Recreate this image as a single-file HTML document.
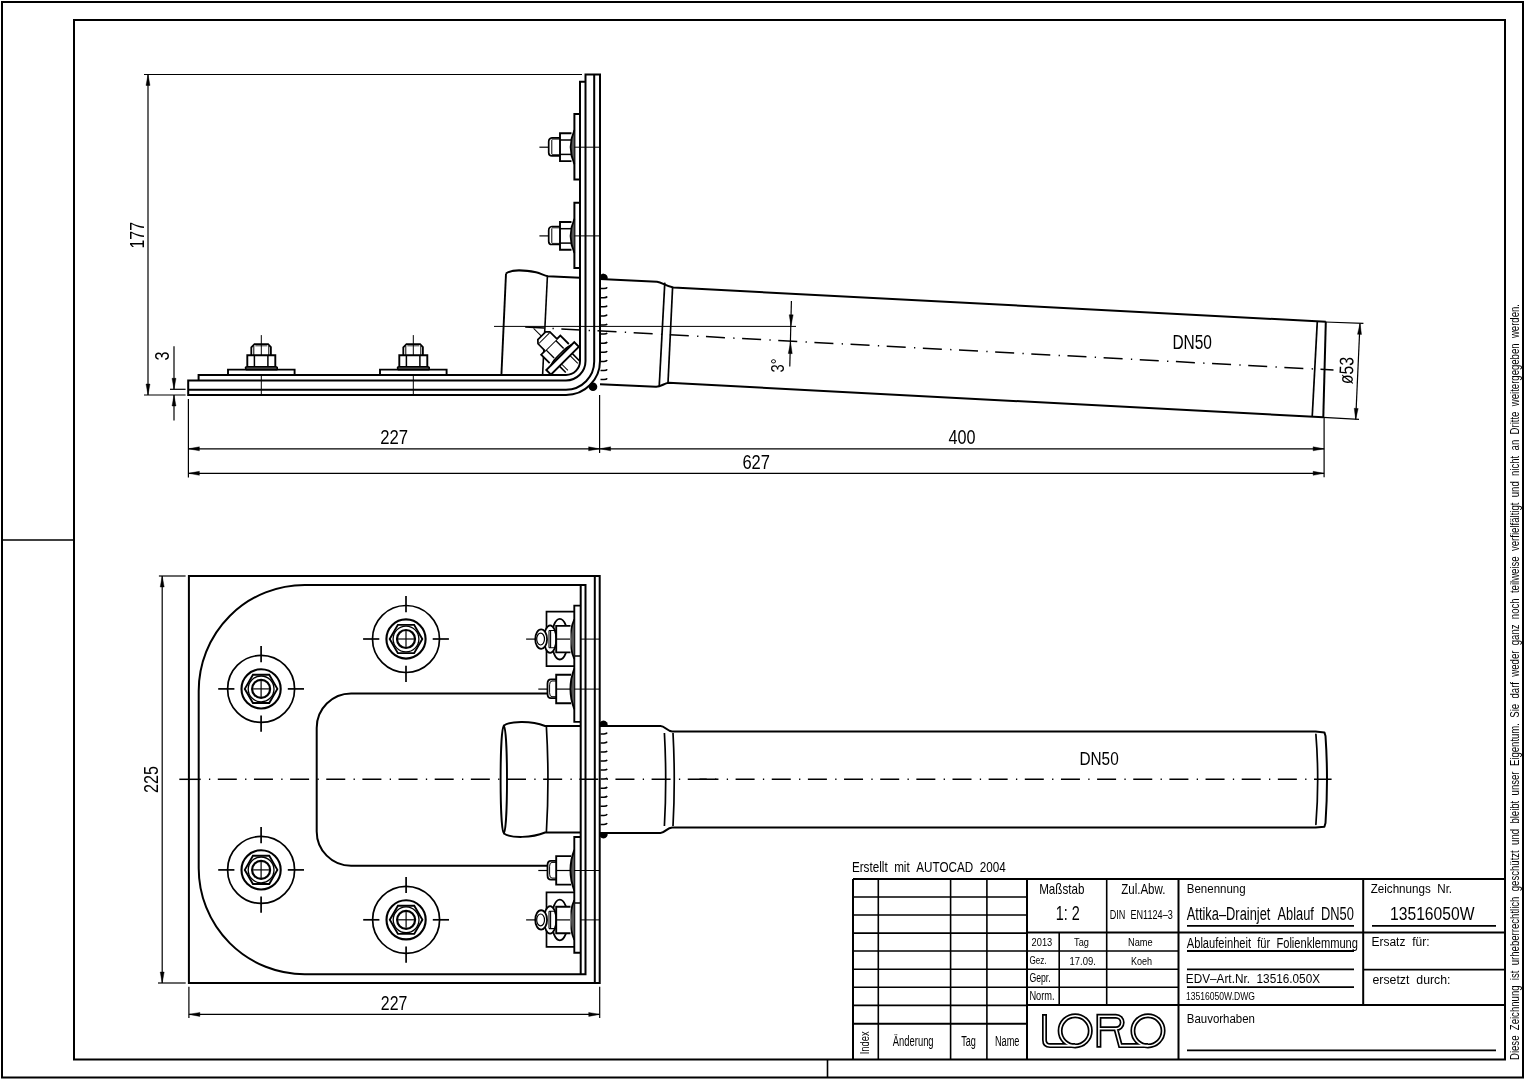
<!DOCTYPE html>
<html><head><meta charset="utf-8"><style>
html,body{margin:0;padding:0;background:#fff;width:1525px;height:1080px;overflow:hidden}
svg{display:block;will-change:transform}
text{font-family:"Liberation Sans",sans-serif;fill:#000;stroke:none}
</style></head><body>
<svg width="1525" height="1080" viewBox="0 0 1525 1080">
<g fill="none" stroke="#000" stroke-linecap="butt">
<path d="M2,2 H1523 V1077.5 H2 Z" stroke-width="2.0" />
<path d="M74,20 H1505 V1059.5 H74 Z" stroke-width="2.0" />
<line x1="2.00" y1="540.00" x2="74.00" y2="540.00" stroke-width="1.6" />
<line x1="827.50" y1="1059.50" x2="827.50" y2="1077.50" stroke-width="1.6" />
<line x1="144.00" y1="74.50" x2="582.00" y2="74.50" stroke-width="1.2" />
<line x1="148.00" y1="74.50" x2="148.00" y2="395.00" stroke-width="1.2" />
<polygon points="148.00,74.50 150.00,85.50 146.00,85.50" fill="#000" stroke="#000" stroke-width="0.4"/>
<polygon points="148.00,395.00 146.00,384.00 150.00,384.00" fill="#000" stroke="#000" stroke-width="0.4"/>
<line x1="144.00" y1="395.00" x2="185.60" y2="395.00" stroke-width="1.2" />
<g transform="translate(137.00,235.30) rotate(-90)"><text x="-13.30" y="6.80" font-size="19.77" textLength="26.60" lengthAdjust="spacingAndGlyphs">177</text></g>
<line x1="174.00" y1="346.30" x2="174.00" y2="389.30" stroke-width="1.2" />
<polygon points="174.00,389.30 172.00,378.30 176.00,378.30" fill="#000" stroke="#000" stroke-width="0.4"/>
<line x1="170.00" y1="389.30" x2="185.60" y2="389.30" stroke-width="1.2" />
<line x1="174.00" y1="420.40" x2="174.00" y2="395.00" stroke-width="1.2" />
<polygon points="174.00,395.00 176.00,406.00 172.00,406.00" fill="#000" stroke="#000" stroke-width="0.4"/>
<g transform="translate(161.80,356.00) rotate(-90)"><text x="-4.50" y="6.80" font-size="19.77" textLength="9.00" lengthAdjust="spacingAndGlyphs">3</text></g>
<path d="M188.2,380.5 V395 H566 A34,34 0 0 0 600,361 V74.4 H585.5 V361 A19.5,19.5 0 0 1 566,380.5 H188.2 Z" stroke-width="2.0" />
<path d="M188.2,389.7 H566 A28.2,28.2 0 0 0 594.2,361 V74.4" stroke-width="2.0" />
<path d="M198.6,380.5 V375 H566 A14,14 0 0 0 580,361 V81.7 H585.5" stroke-width="2.0" />
<path d="M580,113.99999999999999 H574.4 V179.39999999999998 H580" stroke-width="2.0" />
<path d="M574.4,130.2 Q566.8,147.2 574.4,164.2" fill="#555" stroke-width="1.8"/>
<path d="M571.5,133.29999999999998 H560 V161.1 H571.5" stroke-width="1.9" />
<line x1="560.00" y1="140.00" x2="571.00" y2="140.00" stroke-width="1.5" />
<line x1="560.00" y1="154.40" x2="571.00" y2="154.40" stroke-width="1.5" />
<path d="M560,137.79999999999998 H552 Q548.7,138.2 548.7,141.7 V152.7 Q548.7,155.79999999999998 552,155.79999999999998 H560" stroke-width="1.7" />
<line x1="551.80" y1="139.70" x2="551.80" y2="154.20" stroke-width="1.0" />
<line x1="552.00" y1="139.10" x2="560.00" y2="139.10" stroke-width="0.9" />
<line x1="552.00" y1="154.70" x2="560.00" y2="154.70" stroke-width="0.9" />
<line x1="539.40" y1="147.20" x2="548.70" y2="147.20" stroke-width="1.2" />
<line x1="574.40" y1="147.20" x2="600.00" y2="147.20" stroke-width="1.0" />
<path d="M580,202.7 H574.4 V268.1 H580" stroke-width="2.0" />
<path d="M574.4,218.9 Q566.8,235.9 574.4,252.9" fill="#555" stroke-width="1.8"/>
<path d="M571.5,222.0 H560 V249.8 H571.5" stroke-width="1.9" />
<line x1="560.00" y1="228.70" x2="571.00" y2="228.70" stroke-width="1.5" />
<line x1="560.00" y1="243.10" x2="571.00" y2="243.10" stroke-width="1.5" />
<path d="M560,226.5 H552 Q548.7,226.9 548.7,230.4 V241.4 Q548.7,244.5 552,244.5 H560" stroke-width="1.7" />
<line x1="551.80" y1="228.40" x2="551.80" y2="242.90" stroke-width="1.0" />
<line x1="552.00" y1="227.80" x2="560.00" y2="227.80" stroke-width="0.9" />
<line x1="552.00" y1="243.40" x2="560.00" y2="243.40" stroke-width="0.9" />
<line x1="539.40" y1="235.90" x2="548.70" y2="235.90" stroke-width="1.2" />
<line x1="574.40" y1="235.90" x2="600.00" y2="235.90" stroke-width="1.0" />
<path d="M228.0,375 V369.6 H294.6 V375" stroke-width="1.9" />
<path d="M246.3,369.6 Q244.3,366.7 247.3,366.7 H275.3 Q278.3,366.7 276.8,369.6 Z" fill="#555" stroke-width="1.6"/>
<path d="M247.3,366.7 V355.2 H275.3 V366.7" stroke-width="1.9" />
<line x1="254.40" y1="355.20" x2="254.40" y2="366.70" stroke-width="1.5" />
<line x1="267.90" y1="355.20" x2="267.90" y2="366.70" stroke-width="1.5" />
<path d="M251.3,355.2 V347.4 L254.5,344.1 H268.1 L270.90000000000003,347.2 V355.2" stroke-width="1.8" />
<line x1="253.80" y1="346.00" x2="253.80" y2="355.00" stroke-width="1.0" />
<line x1="268.80" y1="346.00" x2="268.80" y2="355.00" stroke-width="1.0" />
<line x1="255.30" y1="345.80" x2="267.30" y2="345.80" stroke-width="0.8" />
<line x1="261.30" y1="335.10" x2="261.30" y2="356.00" stroke-width="1.0" />
<line x1="261.30" y1="374.50" x2="261.30" y2="395.00" stroke-width="1.0" />
<path d="M380.0,375 V369.6 H446.6 V375" stroke-width="1.9" />
<path d="M398.3,369.6 Q396.3,366.7 399.3,366.7 H427.3 Q430.3,366.7 428.8,369.6 Z" fill="#555" stroke-width="1.6"/>
<path d="M399.3,366.7 V355.2 H427.3 V366.7" stroke-width="1.9" />
<line x1="406.40" y1="355.20" x2="406.40" y2="366.70" stroke-width="1.5" />
<line x1="419.90" y1="355.20" x2="419.90" y2="366.70" stroke-width="1.5" />
<path d="M403.3,355.2 V347.4 L406.5,344.1 H420.1 L422.90000000000003,347.2 V355.2" stroke-width="1.8" />
<line x1="405.80" y1="346.00" x2="405.80" y2="355.00" stroke-width="1.0" />
<line x1="420.80" y1="346.00" x2="420.80" y2="355.00" stroke-width="1.0" />
<line x1="407.30" y1="345.80" x2="419.30" y2="345.80" stroke-width="0.8" />
<line x1="413.30" y1="335.10" x2="413.30" y2="356.00" stroke-width="1.0" />
<line x1="413.30" y1="374.50" x2="413.30" y2="395.00" stroke-width="1.0" />
<path d="M506,273.5 C511,269.5 524,269.8 536,272.2 C541,273.3 544,275.7 548,276.2 L580,277.8" stroke-width="1.9" />
<path d="M506,273.5 L501.4,375" stroke-width="1.9" />
<path d="M547.4,276.2 L542.6,375" stroke-width="1.6" />
<line x1="494.00" y1="326.40" x2="796.00" y2="326.40" stroke-width="1.0" />
<path d="M525.20,327.00 L544.20,328.01 M552.50,328.45 L553.80,328.52 M561.35,328.92 L580.35,329.93 M588.65,330.38 L589.95,330.44 M597.50,330.85 L616.50,331.86 M624.80,332.30 L626.10,332.37 M633.65,332.77 L652.65,333.78 M660.95,334.22 L662.25,334.29 M669.80,334.69 L688.80,335.70 M697.10,336.15 L698.40,336.21 M705.95,336.62 L724.95,337.63 M733.25,338.07 L734.55,338.14 M742.10,338.54 L761.10,339.55 M769.40,339.99 L770.70,340.06 M778.25,340.46 L797.25,341.47 M805.55,341.91 L806.85,341.98 M814.40,342.39 L833.40,343.40 M841.70,343.84 L843.00,343.91 M850.55,344.31 L869.55,345.32 M877.85,345.76 L879.15,345.83 M886.70,346.23 L905.70,347.24 M914.00,347.68 L915.30,347.75 M922.85,348.15 L941.85,349.17 M950.15,349.61 L951.45,349.68 M959.00,350.08 L978.00,351.09 M986.30,351.53 L987.60,351.60 M995.15,352.00 L1014.15,353.01 M1022.45,353.45 L1023.75,353.52 M1031.30,353.92 L1050.30,354.94 M1058.60,355.38 L1059.90,355.45 M1067.45,355.85 L1086.45,356.86 M1094.75,357.30 L1096.05,357.37 M1103.60,357.77 L1122.60,358.78 M1130.90,359.22 L1132.20,359.29 M1139.75,359.69 L1158.75,360.70 M1167.05,361.15 L1168.35,361.22 M1175.90,361.62 L1194.90,362.63 M1203.20,363.07 L1204.50,363.14 M1212.05,363.54 L1231.05,364.55 M1239.35,364.99 L1240.65,365.06 M1248.20,365.46 L1267.20,366.47 M1275.50,366.92 L1276.80,366.99 M1284.35,367.39 L1303.35,368.40 M1311.65,368.84 L1312.95,368.91 M1320.50,369.31 L1333.50,370.00" stroke-width="1.5" />
<g transform="translate(558,352) rotate(45)">
<path d="M11,-9 H22 M11,9 H20" stroke-width="1.6" />
<line x1="11.00" y1="-6.00" x2="22.00" y2="-6.00" stroke-width="1.0" />
<line x1="11.00" y1="6.00" x2="20.00" y2="6.00" stroke-width="1.0" />
<path d="M4.5,-18.5 H11 V21 H4.5 Z" stroke-width="1.9" fill="#fff"/>
<path d="M4.5,-15 Q0,0 4.5,15 Z" fill="#555" stroke-width="1.6"/>
<path d="M2,-13.3 H-10 V13.8 H2" stroke-width="1.8" fill="#fff"/>
<line x1="-10.00" y1="-6.50" x2="1.50" y2="-6.50" stroke-width="1.4" />
<line x1="-10.00" y1="7.00" x2="1.50" y2="7.00" stroke-width="1.4" />
<path d="M-10,-8.5 H-20 L-23,-5.5 V5.5 L-20,8.3 H-10" stroke-width="1.7" fill="#fff"/>
<line x1="-19.50" y1="-7.50" x2="-19.50" y2="7.50" stroke-width="1.0" />
<line x1="-34.00" y1="0.50" x2="-23.00" y2="0.50" stroke-width="1.0" />
</g>
<path d="M599.5,279 A4.2,4.2 0 1 1 607.5,279.2 Z" fill="#000" stroke="none"/>
<circle cx="593" cy="386.8" r="4.3" fill="#000" stroke="none"/>
<path d="M600,278.9 L657,281.8 C662,282.2 666,286.5 673.4,287.5 L1325.8,321.8" stroke-width="2.0" />
<path d="M600,384.3 L656,386.7 C661,386.8 664,383.3 668.7,382.8 L1323.3,417.3" stroke-width="2.0" />
<path d="M664.8,282.6 L659.2,386.5" stroke-width="1.7" />
<path d="M672.6,287 L668,383" stroke-width="1.7" />
<path d="M1325.8,321.8 L1323.3,417.3" stroke-width="2.0" />
<path d="M1317.3,321.4 L1312.2,417" stroke-width="1.7" />
<path d="M600.5,288.6 H604 Q606.5,288.6 607.2,287.4" stroke-width="1.5" />
<path d="M600.5,297.7 H604 Q606.5,297.7 607.2,296.5" stroke-width="1.5" />
<path d="M600.5,306.8 H604 Q606.5,306.8 607.2,305.6" stroke-width="1.5" />
<path d="M600.5,315.9 H604 Q606.5,315.9 607.2,314.7" stroke-width="1.5" />
<path d="M600.5,325.0 H604 Q606.5,325.0 607.2,323.8" stroke-width="1.5" />
<path d="M600.5,334.1 H604 Q606.5,334.1 607.2,332.9" stroke-width="1.5" />
<path d="M600.5,343.2 H604 Q606.5,343.2 607.2,342.0" stroke-width="1.5" />
<path d="M600.5,352.3 H604 Q606.5,352.3 607.2,351.1" stroke-width="1.5" />
<path d="M600.5,361.4 H604 Q606.5,361.4 607.2,360.2" stroke-width="1.5" />
<path d="M600.5,370.5 H604 Q606.5,370.5 607.2,369.3" stroke-width="1.5" />
<path d="M600.5,379.6 H604 Q606.5,379.6 607.2,378.4" stroke-width="1.5" />
<line x1="791.40" y1="301.00" x2="789.80" y2="366.50" stroke-width="1.2" />
<polygon points="791.00,325.80 789.18,314.77 793.18,314.83" fill="#000" stroke="#000" stroke-width="0.4"/>
<polygon points="790.60,342.60 792.23,353.66 788.23,353.53" fill="#000" stroke="#000" stroke-width="0.4"/>
<g transform="translate(777.30,365.40) rotate(-90)"><text x="-7.00" y="6.50" font-size="18.90" textLength="14.00" lengthAdjust="spacingAndGlyphs">3°</text></g>
<text x="1172.40" y="349.40" font-size="20.93" textLength="39.60" lengthAdjust="spacingAndGlyphs">DN50</text>
<line x1="1325.00" y1="322.00" x2="1363.40" y2="323.40" stroke-width="1.2" />
<line x1="1323.00" y1="417.30" x2="1359.00" y2="419.40" stroke-width="1.2" />
<line x1="1360.00" y1="323.40" x2="1355.70" y2="419.40" stroke-width="1.2" />
<polygon points="1360.00,323.40 1361.51,334.48 1357.51,334.30" fill="#000" stroke="#000" stroke-width="0.4"/>
<polygon points="1355.70,419.40 1354.19,408.32 1358.19,408.50" fill="#000" stroke="#000" stroke-width="0.4"/>
<g transform="translate(1346.30,370.50) rotate(-87.5)"><text x="-13.50" y="6.80" font-size="19.77" textLength="27.00" lengthAdjust="spacingAndGlyphs">ø53</text></g>
<line x1="188.40" y1="398.90" x2="188.40" y2="477.40" stroke-width="1.2" />
<line x1="599.60" y1="395.00" x2="599.60" y2="453.00" stroke-width="1.2" />
<line x1="1324.10" y1="417.50" x2="1324.10" y2="477.30" stroke-width="1.2" />
<line x1="188.40" y1="448.80" x2="599.60" y2="448.80" stroke-width="1.2" />
<polygon points="188.40,448.80 199.40,446.80 199.40,450.80" fill="#000" stroke="#000" stroke-width="0.4"/>
<polygon points="599.60,448.80 588.60,450.80 588.60,446.80" fill="#000" stroke="#000" stroke-width="0.4"/>
<line x1="599.60" y1="448.80" x2="1324.10" y2="448.80" stroke-width="1.2" />
<polygon points="599.60,448.80 610.60,446.80 610.60,450.80" fill="#000" stroke="#000" stroke-width="0.4"/>
<polygon points="1324.10,448.80 1313.10,450.80 1313.10,446.80" fill="#000" stroke="#000" stroke-width="0.4"/>
<line x1="188.40" y1="473.30" x2="1324.10" y2="473.30" stroke-width="1.2" />
<polygon points="188.40,473.30 199.40,471.30 199.40,475.30" fill="#000" stroke="#000" stroke-width="0.4"/>
<polygon points="1324.10,473.30 1313.10,475.30 1313.10,471.30" fill="#000" stroke="#000" stroke-width="0.4"/>
<text x="380.20" y="444.40" font-size="19.48" textLength="27.90" lengthAdjust="spacingAndGlyphs">227</text>
<text x="948.60" y="444.40" font-size="19.48" textLength="27.00" lengthAdjust="spacingAndGlyphs">400</text>
<text x="742.40" y="468.70" font-size="20.06" textLength="27.60" lengthAdjust="spacingAndGlyphs">627</text>
<path d="M188.9,576 H599.7 V983 H188.9 Z" stroke-width="2.0" />
<path d="M585.5,584.9 H304.7 A106,106 0 0 0 198.7,690.9 V868.2 A106,106 0 0 0 304.7,974.2 H585.5 Z" stroke-width="2.0" />
<path d="M580.7,584.9 V974.2" stroke-width="2.0" />
<path d="M594.8,576 V983" stroke-width="2.0" />
<path d="M547.5,693.5 H351.1 A34.4,34.4 0 0 0 316.7,727.9 V831.2 A34.4,34.4 0 0 0 351.1,865.8 H547.5" stroke-width="2.0" />
<path d="M208.95,779.30 L210.25,779.30 M217.80,779.30 L236.80,779.30 M245.10,779.30 L246.40,779.30 M253.95,779.30 L272.95,779.30 M281.25,779.30 L282.55,779.30 M290.10,779.30 L309.10,779.30 M317.40,779.30 L318.70,779.30 M326.25,779.30 L345.25,779.30 M353.55,779.30 L354.85,779.30 M362.40,779.30 L381.40,779.30 M389.70,779.30 L391.00,779.30 M398.55,779.30 L417.55,779.30 M425.85,779.30 L427.15,779.30 M434.70,779.30 L453.70,779.30 M462.00,779.30 L463.30,779.30 M470.85,779.30 L489.85,779.30 M498.15,779.30 L499.45,779.30 M507.00,779.30 L526.00,779.30 M534.30,779.30 L535.60,779.30 M543.15,779.30 L562.15,779.30 M570.45,779.30 L571.75,779.30 M579.30,779.30 L598.30,779.30 M606.60,779.30 L607.90,779.30 M615.45,779.30 L634.45,779.30 M642.75,779.30 L644.05,779.30 M651.60,779.30 L670.60,779.30 M678.90,779.30 L680.20,779.30 M687.75,779.30 L706.75,779.30 M715.05,779.30 L716.35,779.30" stroke-width="1.5" />
<line x1="179.30" y1="779.30" x2="200.70" y2="779.30" stroke-width="1.5" />
<path d="M699.50,779.30 L718.45,779.30 M726.75,779.30 L728.05,779.30 M735.60,779.30 L754.60,779.30 M762.90,779.30 L764.20,779.30 M771.75,779.30 L790.75,779.30 M799.05,779.30 L800.35,779.30 M807.90,779.30 L826.90,779.30 M835.20,779.30 L836.50,779.30 M844.05,779.30 L863.05,779.30 M871.35,779.30 L872.65,779.30 M880.20,779.30 L899.20,779.30 M907.50,779.30 L908.80,779.30 M916.35,779.30 L935.35,779.30 M943.65,779.30 L944.95,779.30 M952.50,779.30 L971.50,779.30 M979.80,779.30 L981.10,779.30 M988.65,779.30 L1007.65,779.30 M1015.95,779.30 L1017.25,779.30 M1024.80,779.30 L1043.80,779.30 M1052.10,779.30 L1053.40,779.30 M1060.95,779.30 L1079.95,779.30 M1088.25,779.30 L1089.55,779.30 M1097.10,779.30 L1116.10,779.30 M1124.40,779.30 L1125.70,779.30 M1133.25,779.30 L1152.25,779.30 M1160.55,779.30 L1161.85,779.30 M1169.40,779.30 L1188.40,779.30 M1196.70,779.30 L1198.00,779.30 M1205.55,779.30 L1224.55,779.30 M1232.85,779.30 L1234.15,779.30 M1241.70,779.30 L1260.70,779.30 M1269.00,779.30 L1270.30,779.30 M1277.85,779.30 L1296.85,779.30 M1305.15,779.30 L1306.45,779.30 M1314.00,779.30 L1331.60,779.30" stroke-width="1.5" />
<circle cx="261.1" cy="688.9" r="33.5" stroke-width="1.7"/>
<circle cx="261.1" cy="688.9" r="19.6" stroke-width="2.1"/>
<circle cx="261.1" cy="688.9" r="12.9" stroke-width="1.3"/>
<circle cx="261.1" cy="688.9" r="9" stroke-width="2.2"/>
<polygon points="277.40,688.90 269.25,703.02 252.95,703.02 244.80,688.90 252.95,674.78 269.25,674.78" stroke-width="1.9"/>
<line x1="253.10" y1="688.90" x2="269.10" y2="688.90" stroke-width="1.2" />
<line x1="261.10" y1="680.90" x2="261.10" y2="696.90" stroke-width="1.2" />
<line x1="234.40" y1="688.90" x2="218.20" y2="688.90" stroke-width="1.7" />
<line x1="261.10" y1="662.20" x2="261.10" y2="646.00" stroke-width="1.7" />
<line x1="287.80" y1="688.90" x2="304.00" y2="688.90" stroke-width="1.7" />
<line x1="261.10" y1="715.60" x2="261.10" y2="731.80" stroke-width="1.7" />
<circle cx="406" cy="639" r="33.5" stroke-width="1.7"/>
<circle cx="406" cy="639" r="19.6" stroke-width="2.1"/>
<circle cx="406" cy="639" r="12.9" stroke-width="1.3"/>
<circle cx="406" cy="639" r="9" stroke-width="2.2"/>
<polygon points="422.30,639.00 414.15,653.12 397.85,653.12 389.70,639.00 397.85,624.88 414.15,624.88" stroke-width="1.9"/>
<line x1="398.00" y1="639.00" x2="414.00" y2="639.00" stroke-width="1.2" />
<line x1="406.00" y1="631.00" x2="406.00" y2="647.00" stroke-width="1.2" />
<line x1="379.30" y1="639.00" x2="363.10" y2="639.00" stroke-width="1.7" />
<line x1="406.00" y1="612.30" x2="406.00" y2="596.10" stroke-width="1.7" />
<line x1="432.70" y1="639.00" x2="448.90" y2="639.00" stroke-width="1.7" />
<line x1="406.00" y1="665.70" x2="406.00" y2="681.90" stroke-width="1.7" />
<circle cx="261.1" cy="869.9" r="33.5" stroke-width="1.7"/>
<circle cx="261.1" cy="869.9" r="19.6" stroke-width="2.1"/>
<circle cx="261.1" cy="869.9" r="12.9" stroke-width="1.3"/>
<circle cx="261.1" cy="869.9" r="9" stroke-width="2.2"/>
<polygon points="277.40,869.90 269.25,884.02 252.95,884.02 244.80,869.90 252.95,855.78 269.25,855.78" stroke-width="1.9"/>
<line x1="253.10" y1="869.90" x2="269.10" y2="869.90" stroke-width="1.2" />
<line x1="261.10" y1="861.90" x2="261.10" y2="877.90" stroke-width="1.2" />
<line x1="234.40" y1="869.90" x2="218.20" y2="869.90" stroke-width="1.7" />
<line x1="261.10" y1="843.20" x2="261.10" y2="827.00" stroke-width="1.7" />
<line x1="287.80" y1="869.90" x2="304.00" y2="869.90" stroke-width="1.7" />
<line x1="261.10" y1="896.60" x2="261.10" y2="912.80" stroke-width="1.7" />
<circle cx="406.1" cy="919.8" r="33.5" stroke-width="1.7"/>
<circle cx="406.1" cy="919.8" r="19.6" stroke-width="2.1"/>
<circle cx="406.1" cy="919.8" r="12.9" stroke-width="1.3"/>
<circle cx="406.1" cy="919.8" r="9" stroke-width="2.2"/>
<polygon points="422.40,919.80 414.25,933.92 397.95,933.92 389.80,919.80 397.95,905.68 414.25,905.68" stroke-width="1.9"/>
<line x1="398.10" y1="919.80" x2="414.10" y2="919.80" stroke-width="1.2" />
<line x1="406.10" y1="911.80" x2="406.10" y2="927.80" stroke-width="1.2" />
<line x1="379.40" y1="919.80" x2="363.20" y2="919.80" stroke-width="1.7" />
<line x1="406.10" y1="893.10" x2="406.10" y2="876.90" stroke-width="1.7" />
<line x1="432.80" y1="919.80" x2="449.00" y2="919.80" stroke-width="1.7" />
<line x1="406.10" y1="946.50" x2="406.10" y2="962.70" stroke-width="1.7" />
<path d="M580.7,605.6 H574.3 V721.9 H580.7" stroke-width="1.9" />
<line x1="574.30" y1="656.00" x2="580.70" y2="656.00" stroke-width="1.5" />
<path d="M580.7,837 H574.3 V952.8 H580.7" stroke-width="1.9" />
<line x1="574.30" y1="903.00" x2="580.70" y2="903.00" stroke-width="1.5" />
<path d="M574,611.6 H546.5 V666.1 H574" stroke-width="1.7" />
<ellipse cx="559.8" cy="639.2" rx="8.2" ry="20.3" stroke-width="1.8" fill="#fff"/>
<path d="M574.3,619.3 Q566,639 574.3,659" fill="#555" stroke-width="1.8"/>
<ellipse cx="550.1" cy="639.1" rx="6.1" ry="13.7" stroke-width="1.7" fill="#fff"/>
<path d="M570.5,625.9 H556.2 V652.4 H570.5" stroke-width="1.9" fill="#fff"/>
<line x1="556.20" y1="639.10" x2="570.00" y2="639.10" stroke-width="1.2" />
<path d="M549,630.5 H556 M549,647.8 H556 M549,630.5 V647.8 M550.6,630.5 V647.8" stroke-width="1.1" />
<ellipse cx="541.15" cy="639.15" rx="5.9" ry="9.7" stroke-width="1.8" fill="#fff"/>
<ellipse cx="540.6" cy="639.1" rx="3.9" ry="5.9" stroke-width="1.2"/>
<line x1="526.10" y1="639.10" x2="535.30" y2="639.10" stroke-width="1.2" />
<line x1="581.00" y1="639.10" x2="599.70" y2="639.10" stroke-width="1.0" />
<path d="M574.3,668.5 Q566.5,688.8 574.3,709.3" fill="#555" stroke-width="1.8"/>
<path d="M571,674.6999999999999 H556.2 V703.1999999999999 H571" stroke-width="1.9" />
<line x1="556.20" y1="689.10" x2="570.00" y2="689.10" stroke-width="1.2" />
<path d="M556.2,679.4 H551 Q547.5,679.4 547.5,683.8 V693.8 Q547.5,698.1999999999999 551,698.1999999999999 H556.2" stroke-width="1.8" />
<path d="M556.2,681.0 H552 Q549.6,681.0 549.6,684.8 V692.8 Q549.6,696.6999999999999 552,696.6999999999999 H556.2" stroke-width="1.0" />
<line x1="538.30" y1="689.10" x2="547.50" y2="689.10" stroke-width="1.2" />
<line x1="574.30" y1="689.10" x2="599.70" y2="689.10" stroke-width="1.0" />
<path d="M574.3,849.9000000000001 Q566.5,870.2 574.3,890.7" fill="#555" stroke-width="1.8"/>
<path d="M571,856.1 H556.2 V884.6 H571" stroke-width="1.9" />
<line x1="556.20" y1="870.50" x2="570.00" y2="870.50" stroke-width="1.2" />
<path d="M556.2,860.8000000000001 H551 Q547.5,860.8000000000001 547.5,865.2 V875.2 Q547.5,879.6 551,879.6 H556.2" stroke-width="1.8" />
<path d="M556.2,862.4000000000001 H552 Q549.6,862.4000000000001 549.6,866.2 V874.2 Q549.6,878.1 552,878.1 H556.2" stroke-width="1.0" />
<line x1="538.30" y1="870.50" x2="547.50" y2="870.50" stroke-width="1.2" />
<line x1="574.30" y1="870.50" x2="599.70" y2="870.50" stroke-width="1.0" />
<path d="M574,892.4 H546.5 V946.9 H574" stroke-width="1.7" />
<ellipse cx="559.8" cy="920.0" rx="8.2" ry="20.3" stroke-width="1.8" fill="#fff"/>
<path d="M574.3,900.0999999999999 Q566,919.8 574.3,939.8" fill="#555" stroke-width="1.8"/>
<ellipse cx="550.1" cy="919.9" rx="6.1" ry="13.7" stroke-width="1.7" fill="#fff"/>
<path d="M570.5,906.6999999999999 H556.2 V933.1999999999999 H570.5" stroke-width="1.9" fill="#fff"/>
<line x1="556.20" y1="919.90" x2="570.00" y2="919.90" stroke-width="1.2" />
<path d="M549,911.3 H556 M549,928.5999999999999 H556 M549,911.3 V928.5999999999999 M550.6,911.3 V928.5999999999999" stroke-width="1.1" />
<ellipse cx="541.15" cy="919.9499999999999" rx="5.9" ry="9.7" stroke-width="1.8" fill="#fff"/>
<ellipse cx="540.6" cy="919.9" rx="3.9" ry="5.9" stroke-width="1.2"/>
<line x1="526.10" y1="919.90" x2="535.30" y2="919.90" stroke-width="1.2" />
<line x1="581.00" y1="919.90" x2="599.70" y2="919.90" stroke-width="1.0" />
<ellipse cx="503.8" cy="779.5" rx="3.2" ry="53.8" stroke-width="1.9"/>
<path d="M503.5,725.7 C511,720.5 532,721 545.1,726 H580" stroke-width="1.9" />
<path d="M503.5,833.3 C511,838.5 532,838 545.1,832.5 H580" stroke-width="1.9" />
<path d="M546.4,727 Q549.5,779.5 546.4,832" stroke-width="1.7" />
<path d="M600,726 H660.5 C665,726 667,731.4 672.3,731.4 H1315.6 L1324.4,732.4 L1325.5,736 Q1328.5,779.5 1325.5,823 L1324.4,826.7 L1315.6,827.6 H672.3 C667,827.6 665,832.9 660.5,832.9 H600" stroke-width="2.0" stroke-linejoin="round"/>
<path d="M1315.9,734.4 Q1319.5,779.5 1315.9,824.4" stroke-width="1.7" stroke-linecap="round"/>
<path d="M664.4,733 Q667,779.5 664.4,826" stroke-width="1.7" />
<path d="M673,733 Q675.5,779.5 673,826" stroke-width="1.7" />
<path d="M600.5,733.9 H604 Q606.5,733.9 607.2,732.7" stroke-width="1.5" />
<path d="M600.5,742.9 H604 Q606.5,742.9 607.2,741.7" stroke-width="1.5" />
<path d="M600.5,752.0 H604 Q606.5,752.0 607.2,750.8" stroke-width="1.5" />
<path d="M600.5,761.0 H604 Q606.5,761.0 607.2,759.8" stroke-width="1.5" />
<path d="M600.5,770.1 H604 Q606.5,770.1 607.2,768.9" stroke-width="1.5" />
<path d="M600.5,779.1 H604 Q606.5,779.1 607.2,777.9" stroke-width="1.5" />
<path d="M600.5,788.2 H604 Q606.5,788.2 607.2,787.0" stroke-width="1.5" />
<path d="M600.5,797.2 H604 Q606.5,797.2 607.2,796.0" stroke-width="1.5" />
<path d="M600.5,806.3 H604 Q606.5,806.3 607.2,805.1" stroke-width="1.5" />
<path d="M600.5,815.4 H604 Q606.5,815.4 607.2,814.1" stroke-width="1.5" />
<path d="M600.5,824.4 H604 Q606.5,824.4 607.2,823.2" stroke-width="1.5" />
<path d="M599.5,726 A4.2,4.2 0 1 1 607.5,726 Z" fill="#000" stroke="none"/>
<path d="M599.5,832.9 A4.2,4.2 0 1 0 607.5,832.9 Z" fill="#000" stroke="none"/>
<text x="1079.40" y="764.70" font-size="19.19" textLength="39.30" lengthAdjust="spacingAndGlyphs">DN50</text>
<line x1="158.90" y1="576.00" x2="185.60" y2="576.00" stroke-width="1.2" />
<line x1="158.00" y1="983.00" x2="185.70" y2="983.00" stroke-width="1.2" />
<line x1="162.20" y1="576.00" x2="162.20" y2="983.00" stroke-width="1.2" />
<polygon points="162.20,576.00 164.20,587.00 160.20,587.00" fill="#000" stroke="#000" stroke-width="0.4"/>
<polygon points="162.20,983.00 160.20,972.00 164.20,972.00" fill="#000" stroke="#000" stroke-width="0.4"/>
<g transform="translate(151.00,779.50) rotate(-90)"><text x="-13.50" y="6.70" font-size="19.48" textLength="27.00" lengthAdjust="spacingAndGlyphs">225</text></g>
<line x1="188.90" y1="986.70" x2="188.90" y2="1018.00" stroke-width="1.2" />
<line x1="599.70" y1="986.70" x2="599.70" y2="1018.00" stroke-width="1.2" />
<line x1="188.90" y1="1014.40" x2="599.70" y2="1014.40" stroke-width="1.2" />
<polygon points="188.90,1014.40 199.90,1012.40 199.90,1016.40" fill="#000" stroke="#000" stroke-width="0.4"/>
<polygon points="599.70,1014.40 588.70,1016.40 588.70,1012.40" fill="#000" stroke="#000" stroke-width="0.4"/>
<text x="380.80" y="1009.60" font-size="19.33" textLength="26.50" lengthAdjust="spacingAndGlyphs">227</text>
<text x="851.90" y="871.80" font-size="14.39" textLength="153.80" lengthAdjust="spacingAndGlyphs">Erstellt  mit  AUTOCAD  2004</text>
<path d="M853,879 H1505" stroke-width="2.0" />
<path d="M853,879 V1059.5" stroke-width="2.0" />
<line x1="878.30" y1="879.00" x2="878.30" y2="1059.50" stroke-width="1.6" />
<line x1="950.60" y1="879.00" x2="950.60" y2="1059.50" stroke-width="1.6" />
<line x1="986.90" y1="879.00" x2="986.90" y2="1059.50" stroke-width="1.6" />
<path d="M1027,879 V1059.5" stroke-width="2.0" />
<line x1="853.00" y1="897.00" x2="1027.00" y2="897.00" stroke-width="1.6" />
<line x1="853.00" y1="915.00" x2="1027.00" y2="915.00" stroke-width="1.6" />
<line x1="853.00" y1="933.10" x2="1027.00" y2="933.10" stroke-width="1.6" />
<line x1="853.00" y1="951.00" x2="1027.00" y2="951.00" stroke-width="1.6" />
<line x1="853.00" y1="969.30" x2="1027.00" y2="969.30" stroke-width="1.6" />
<line x1="853.00" y1="987.20" x2="1027.00" y2="987.20" stroke-width="1.6" />
<line x1="853.00" y1="1005.40" x2="1027.00" y2="1005.40" stroke-width="1.6" />
<path d="M853,1023.7 H1027" stroke-width="2.0" />
<line x1="1106.70" y1="879.00" x2="1106.70" y2="1005.40" stroke-width="1.6" />
<path d="M1178.5,879 V1059.5" stroke-width="2.0" />
<line x1="1059.20" y1="932.60" x2="1059.20" y2="1005.40" stroke-width="1.6" />
<path d="M1027,932.6 H1505" stroke-width="2.0" />
<line x1="1027.00" y1="951.00" x2="1178.50" y2="951.00" stroke-width="1.6" />
<line x1="1027.00" y1="969.30" x2="1178.50" y2="969.30" stroke-width="1.6" />
<line x1="1027.00" y1="987.20" x2="1178.50" y2="987.20" stroke-width="1.6" />
<path d="M1027,1005 H1505" stroke-width="2.0" />
<line x1="1363.20" y1="879.00" x2="1363.20" y2="1005.00" stroke-width="2.0" />
<line x1="1363.20" y1="969.60" x2="1505.00" y2="969.60" stroke-width="1.6" />
<text x="1039.20" y="893.60" font-size="14.97" textLength="45.20" lengthAdjust="spacingAndGlyphs">Maßstab</text>
<text x="1055.70" y="920.00" font-size="20.06" textLength="24.10" lengthAdjust="spacingAndGlyphs">1: 2</text>
<text x="1121.20" y="893.60" font-size="14.97" textLength="44.20" lengthAdjust="spacingAndGlyphs">Zul.Abw.</text>
<text x="1109.70" y="919.30" font-size="12.35" textLength="63.10" lengthAdjust="spacingAndGlyphs">DIN  EN1124–3</text>
<text x="1031.60" y="946.40" font-size="11.63" textLength="20.70" lengthAdjust="spacingAndGlyphs">2013</text>
<text x="1074.10" y="946.40" font-size="11.63" textLength="14.90" lengthAdjust="spacingAndGlyphs">Tag</text>
<text x="1128.00" y="946.40" font-size="11.63" textLength="24.60" lengthAdjust="spacingAndGlyphs">Name</text>
<text x="1029.40" y="963.60" font-size="11.63" textLength="17.20" lengthAdjust="spacingAndGlyphs">Gez.</text>
<text x="1069.50" y="964.80" font-size="11.77" textLength="26.40" lengthAdjust="spacingAndGlyphs">17.09.</text>
<text x="1131.00" y="964.80" font-size="11.77" textLength="21.10" lengthAdjust="spacingAndGlyphs">Koeh</text>
<text x="1029.40" y="982.20" font-size="11.92" textLength="21.30" lengthAdjust="spacingAndGlyphs">Gepr.</text>
<text x="1029.40" y="1000.30" font-size="12.35" textLength="25.20" lengthAdjust="spacingAndGlyphs">Norm.</text>
<g transform="translate(865.00,1042.80) rotate(-90)"><text x="-11.50" y="4.35" font-size="12.65" textLength="23.00" lengthAdjust="spacingAndGlyphs">Index</text></g>
<text x="892.80" y="1046.20" font-size="14.24" textLength="40.80" lengthAdjust="spacingAndGlyphs">Änderung</text>
<text x="961.20" y="1046.20" font-size="14.24" textLength="14.70" lengthAdjust="spacingAndGlyphs">Tag</text>
<text x="994.90" y="1046.20" font-size="14.24" textLength="24.60" lengthAdjust="spacingAndGlyphs">Name</text>
<text x="1186.80" y="893.30" font-size="13.52" textLength="58.80" lengthAdjust="spacingAndGlyphs">Benennung</text>
<text x="1186.80" y="920.00" font-size="19.19" textLength="167.10" lengthAdjust="spacingAndGlyphs">Attika–Drainjet  Ablauf  DN50</text>
<line x1="1187.00" y1="925.90" x2="1354.00" y2="925.90" stroke-width="1.9" />
<text x="1370.70" y="893.30" font-size="13.52" textLength="81.40" lengthAdjust="spacingAndGlyphs">Zeichnungs  Nr.</text>
<text x="1390.00" y="920.00" font-size="19.19" textLength="84.50" lengthAdjust="spacingAndGlyphs">13516050W</text>
<line x1="1372.00" y1="925.90" x2="1496.00" y2="925.90" stroke-width="1.9" />
<text x="1186.80" y="948.00" font-size="15.26" textLength="171.20" lengthAdjust="spacingAndGlyphs">Ablaufeinheit  für  Folienklemmung</text>
<line x1="1187.00" y1="951.00" x2="1354.00" y2="951.00" stroke-width="1.9" />
<line x1="1187.00" y1="969.40" x2="1354.00" y2="969.40" stroke-width="1.9" />
<text x="1185.80" y="982.90" font-size="13.52" textLength="134.30" lengthAdjust="spacingAndGlyphs">EDV–Art.Nr.  13516.050X</text>
<line x1="1187.00" y1="987.10" x2="1354.00" y2="987.10" stroke-width="1.9" />
<text x="1186.00" y="999.90" font-size="11.19" textLength="69.00" lengthAdjust="spacingAndGlyphs">13516050W.DWG</text>
<text x="1371.40" y="946.30" font-size="13.52" textLength="58.10" lengthAdjust="spacingAndGlyphs">Ersatz  für:</text>
<text x="1372.50" y="984.00" font-size="12.79" textLength="78.00" lengthAdjust="spacingAndGlyphs">ersetzt  durch:</text>
<text x="1186.80" y="1022.50" font-size="13.52" textLength="68.20" lengthAdjust="spacingAndGlyphs">Bauvorhaben</text>
<line x1="1187.00" y1="1050.40" x2="1496.00" y2="1050.40" stroke-width="1.9" />
<g stroke="#000" stroke-width="5.0" fill="none" stroke-linejoin="miter">
<path d="M1044.5,1014 V1040 Q1044.5,1045.6 1050,1045.6 H1075.2 M1098.9,1047.8 V1016.2 H1115.9 A6.3,6.3 0 0 1 1115.9,1028.8 H1098.9 M1115.9,1028.8 L1120.4,1045.6 H1148"/>
<circle cx="1075.2" cy="1030.8" r="15.1"/><circle cx="1148" cy="1030.8" r="15.1"/>
</g>
<g stroke="#fff" stroke-width="1.6" fill="none" stroke-linejoin="miter">
<path d="M1044.5,1015.8 V1040 Q1044.5,1045.6 1050,1045.6 H1075.2 M1098.9,1046 V1016.2 H1115.9 A6.3,6.3 0 0 1 1115.9,1028.8 H1098.9 M1115.9,1028.8 L1120.4,1045.6 H1148"/>
<circle cx="1075.2" cy="1030.8" r="15.1"/><circle cx="1148" cy="1030.8" r="15.1"/>
</g>
<g transform="translate(1514.90,682.00) rotate(-90)"><text x="-378.00" y="4.15" font-size="12.06" textLength="756.00" lengthAdjust="spacingAndGlyphs">Diese  Zeichnung  ist  urheberrechtlich  geschützt  und  bleibt  unser  Eigentum.  Sie  darf  weder  ganz  noch  teilweise  verfielfältigt  und  nicht  an  Dritte  weitergegeben  werden.</text></g>
</g>
</svg>
</body></html>
